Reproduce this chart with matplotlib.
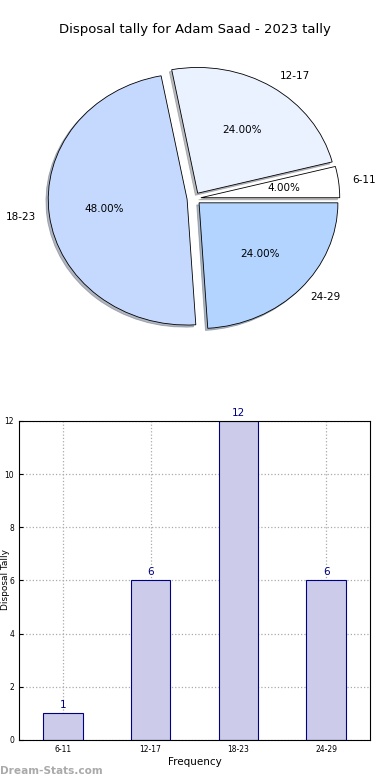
import matplotlib
matplotlib.use("Agg")
import matplotlib.pyplot as plt

categories = ["6-11", "12-17", "18-23", "24-29"]
counts = [1, 6, 12, 6]
pie_colors = ["#ffffff", "#eaf1ff", "#c5d9ff", "#b3d4ff"]
title = "Disposal tally for Adam Saad - 2023 tally"

fig = plt.figure(figsize=(3.9, 7.8), dpi=100)
fig.patch.set_facecolor("white")

fig.text(0.5, 1 - 30 / 780, title, ha="center", va="center", fontsize=9.5)

# Pie
axp = fig.add_axes([0.0524, 0.544, 0.89, 0.403])
wedges, texts, autotexts = axp.pie(
    counts, labels=categories, colors=pie_colors, explode=[0.05] * 4,
    autopct="%.2f%%", shadow={"ox": -0.012, "oy": -0.012, "shade": 0.5},
    startangle=0, counterclock=True,
    wedgeprops=dict(edgecolor="black", linewidth=0.6),
    textprops=dict(fontsize=7.5))
axp.set_aspect("auto")
axp.set_xlim(-1.25, 1.25)
axp.set_ylim(-1.25, 1.25)
axp.axis("off")

# Bars
axb = fig.add_axes([0.0487, 0.0513, 0.9, 0.409])
x = list(range(len(categories)))
bars = axb.bar(x, counts, width=0.45, color="#ccccea", edgecolor="#000080", linewidth=0.8, zorder=2)
for xi, c in zip(x, counts):
    axb.text(xi, c + 0.12, str(c), ha="center", va="bottom", fontsize=7.5, color="#000080")
axb.set_xlim(-0.5, 3.5)
axb.set_ylim(0, 12)
axb.set_yticks(range(0, 13, 2))
axb.set_xticks(x)
axb.set_xticklabels(categories)
axb.tick_params(axis="both", labelsize=5.5, direction="in", length=3)
axb.grid(True, linestyle=":", color="#aaaaaa", linewidth=0.9, zorder=0)
axb.set_axisbelow(True)
axb.set_xlabel("Frequency", fontsize=7.5, labelpad=2)
for s in axb.spines.values():
    s.set_linewidth(0.8)

fig.text(0.5 / 390, 1 - 580 / 780, "Disposal Tally", rotation=90,
         ha="left", va="center", fontsize=6.5)

fig.text(0.0, 1 - 771 / 780, "Dream-Stats.com", ha="left", va="center",
         fontsize=7.6, fontweight="bold", color="#aaaaaa")

fig.savefig("out.png", dpi=100)
